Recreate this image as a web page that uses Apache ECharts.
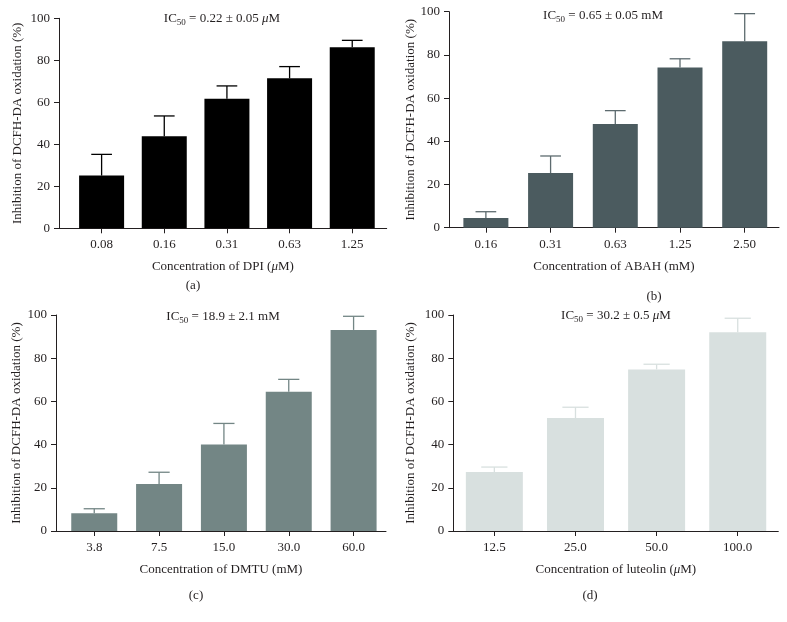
<!DOCTYPE html>
<html>
<head>
<meta charset="utf-8">
<script src="https://cdn.jsdelivr.net/npm/echarts@6/dist/echarts.min.js"></script>
<style>html,body{margin:0;padding:0;background:#fff}#c{width:787px;height:622px}</style>
</head>
<body>
<div id="c"></div>
<script>
// ---- data ----
const catsA = ['0.08', '0.16', '0.31', '0.63', '1.25'];
const valsA = [25.1, 43.8, 61.7, 71.4, 86.2];
const errsA = [10.1, 9.7, 6.1, 5.6, 3.3];

const catsB = ['0.16', '0.31', '0.63', '1.25', '2.50'];
const valsB = [4.5, 25.3, 48.0, 74.2, 86.3];
const errsB = [2.9, 7.9, 6.2, 4.0, 12.8];

const catsC = ['3.8', '7.5', '15.0', '30.0', '60.0'];
const valsC = [8.2, 21.8, 40.1, 64.5, 93.1];
const errsC = [2.1, 5.4, 9.7, 5.7, 6.3];

const catsD = ['12.5', '25.0', '50.0', '100.0'];
const valsD = [27.3, 52.3, 74.8, 92.0];
const errsD = [2.3, 5.0, 2.4, 6.5];

const yTicks = [0, 20, 40, 60, 80, 100];

// ---- layout / style ----
const FONT = "'Liberation Serif', 'DejaVu Serif', serif";
const INK = '#231f20';
const panels = [
  {cats: catsA, vals: valsA, errs: errsA, grid: {left: 59, top: 18.3, width: 327.7, height: 210}, xmin: -0.68, xmax: 4.55,
   bar: '#000000', err: '#000000', barW: 45, nameGapY: 35, nameGapX: 30,
   xname: '{n|Concentration of DPI (}{i|μ}{n|M)}',
   title: '{n|IC}{s|50}{n| = 0.22 ± 0.05 }{i|μ}{n|M}', tx: 222, ty: 11, label: '(a)', lx: 193, ly: 286},
  {cats: catsB, vals: valsB, errs: errsB, grid: {left: 449, top: 11.7, width: 330, height: 216}, xmin: -0.57, xmax: 4.53,
   bar: '#4b5b5f', err: '#5d6b6f', barW: 45, nameGapY: 32, nameGapX: 31,
   xname: '{n|Concentration of ABAH (mM)}',
   title: '{n|IC}{s|50}{n| = 0.65 ± 0.05 mM}', tx: 603, ty: 8, label: '(b)', lx: 654, ly: 297},
  {cats: catsC, vals: valsC, errs: errsC, grid: {left: 56, top: 315, width: 330, height: 216}, xmin: -0.59, xmax: 4.5,
   bar: '#738685', err: '#738685', barW: 46, nameGapY: 33, nameGapX: 31,
   xname: '{n|Concentration of DMTU (mM)}',
   title: '{n|IC}{s|50}{n| = 18.9 ± 2.1 mM}', tx: 223, ty: 309, label: '(c)', lx: 196, ly: 596},
  {cats: catsD, vals: valsD, errs: errsD, grid: {left: 453.3, top: 315, width: 325, height: 216}, xmin: -0.506, xmax: 3.5,
   bar: '#d8e0df', err: '#d8e0df', barW: 57, nameGapY: 36, nameGapX: 31,
   xname: '{n|Concentration of luteolin (}{i|μ}{n|M)}',
   title: '{n|IC}{s|50}{n| = 30.2 ± 0.5 }{i|μ}{n|M}', tx: 616, ty: 308, label: '(d)', lx: 590, ly: 596}
];

const rich = {
  n: {fontFamily: FONT, fontSize: 13, fontWeight: 'normal', color: INK, lineHeight: 16},
  i: {fontFamily: FONT, fontSize: 13, fontWeight: 'normal', color: INK, fontStyle: 'italic', lineHeight: 16},
  s: {fontFamily: FONT, fontSize: 9, fontWeight: 'normal', color: INK, lineHeight: 8, verticalAlign: 'bottom'}
};

const option = {
  animation: false,
  backgroundColor: '#ffffff',
  title: [], grid: [], xAxis: [], yAxis: [], series: [], graphic: []
};

panels.forEach((p, k) => {
  option.grid.push(Object.assign({containLabel: false}, p.grid));
  const idx = p.cats.map((_, i) => i);
  option.xAxis.push({
    type: 'value', gridIndex: k, min: p.xmin, max: p.xmax,
    splitLine: {show: false},
    axisLine: {show: true, onZero: false, lineStyle: {color: INK, width: 1}},
    axisTick: {show: true, customValues: idx, length: 5, lineStyle: {color: INK}},
    axisLabel: {customValues: idx, formatter: v => p.cats[Math.round(v)], margin: 10,
      fontFamily: FONT, fontSize: 13, color: INK},
    name: p.xname, nameLocation: 'middle', nameGap: p.nameGapX,
    nameTextStyle: {rich: rich}
  });
  option.yAxis.push({
    type: 'value', gridIndex: k, min: 0, max: 100, interval: 20,
    splitLine: {show: false},
    axisLine: {show: true, onZero: false, lineStyle: {color: INK, width: 1}},
    axisTick: {show: true, length: 5, lineStyle: {color: INK}},
    axisLabel: {margin: 9, fontFamily: FONT, fontSize: 13, color: INK},
    name: 'Inhibition of DCFH-DA oxidation (%)', nameLocation: 'middle', nameGap: p.nameGapY,
    nameTextStyle: {fontFamily: FONT, fontSize: 13, color: INK}
  });
  option.series.push({
    type: 'bar', xAxisIndex: k, yAxisIndex: k, barWidth: p.barW,
    itemStyle: {color: p.bar},
    data: p.vals.map((v, i) => [i, v]),
    z: 3
  });
  option.series.push({
    type: 'custom', xAxisIndex: k, yAxisIndex: k,
    data: p.vals.map((v, i) => [i, v, p.errs[i]]),
    z: 2,
    renderItem: (params, api) => {
      const x = api.value(0), v = api.value(1), e = api.value(2);
      const b = api.coord([x, v]);
      const t = api.coord([x, v + e]);
      const hw = p.barW * 0.23;
      return {type: 'group', children: [
        {type: 'line', shape: {x1: b[0], y1: b[1], x2: t[0], y2: t[1]}, style: {stroke: p.err, lineWidth: 1.3}},
        {type: 'line', shape: {x1: t[0] - hw, y1: t[1], x2: t[0] + hw, y2: t[1]}, style: {stroke: p.err, lineWidth: 1.3}}
      ]};
    }
  });
  option.title.push({
    text: p.title, left: p.tx, top: p.ty, textAlign: 'center', padding: 0,
    textStyle: {fontWeight: 'normal', fontFamily: FONT, rich: rich}
  });
  option.graphic.push({
    type: 'text', x: p.lx, y: p.ly,
    style: {text: p.label, font: '13px ' + FONT, fill: INK, align: 'center', verticalAlign: 'middle'}
  });
});

const chart = echarts.init(document.getElementById('c'), null, {renderer: 'canvas'});
chart.setOption(option);
</script>
</body>
</html>
